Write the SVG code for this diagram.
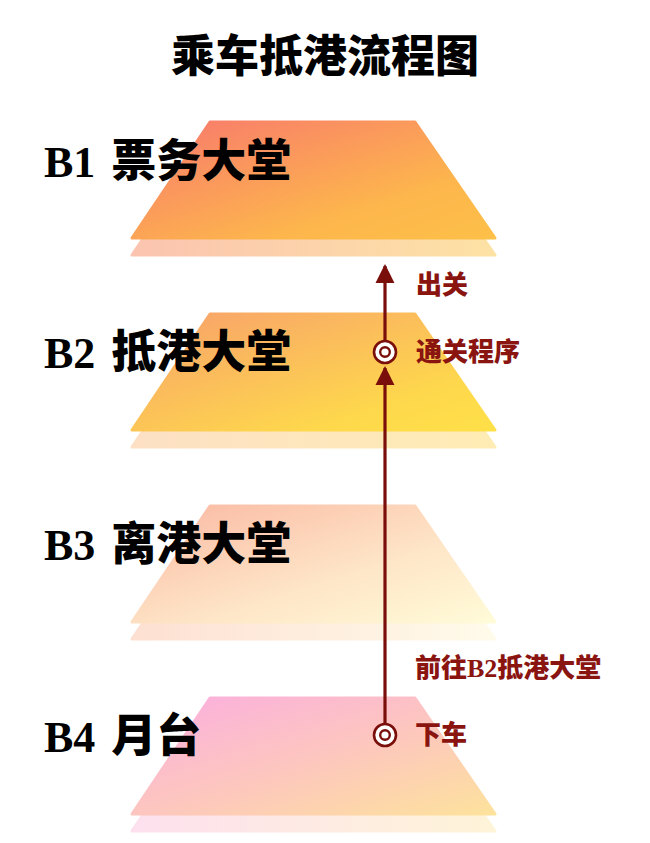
<svg xmlns="http://www.w3.org/2000/svg" width="650" height="843" viewBox="0 0 650 843">
<style>
.cn{font-family:"Noto Sans CJK SC","Noto Sans",sans-serif;font-weight:900;}
.lat{font-family:"Liberation Serif",serif;font-weight:bold;}
.floor{font-size:44px;fill:#000;}
.fcn{font-size:45px;}
.step{font-size:26px;fill:#8a1410;}
.conn{stroke:#7a0e0a;stroke-width:3.2;fill:none;}
.stop{fill:#fff;stroke:#7a0e0a;stroke-width:2.6;}
</style>
<defs>
<linearGradient id="g1" x1="0" y1="0" x2="1" y2="1"><stop offset="0" stop-color="#f8786e"/><stop offset="0.7" stop-color="#fdb64c"/><stop offset="1" stop-color="#fdc048"/></linearGradient>
<linearGradient id="s1" x1="0" y1="0" x2="1" y2="0"><stop offset="0" stop-color="#fbc4b0"/><stop offset="1" stop-color="#fde2a4"/></linearGradient>
<linearGradient id="g2" x1="0" y1="0" x2="1" y2="1"><stop offset="0" stop-color="#f8a06c"/><stop offset="0.75" stop-color="#fed84c"/><stop offset="1" stop-color="#fee048"/></linearGradient>
<linearGradient id="s2" x1="0" y1="0" x2="1" y2="0"><stop offset="0" stop-color="#fde0c4"/><stop offset="1" stop-color="#feecb4"/></linearGradient>
<linearGradient id="g3" x1="0" y1="0" x2="1" y2="1"><stop offset="0" stop-color="#fab8a2"/><stop offset="0.6" stop-color="#fee6c8"/><stop offset="1" stop-color="#fffbd8"/></linearGradient>
<linearGradient id="s3" x1="0" y1="0" x2="1" y2="0"><stop offset="0" stop-color="#fde0d2"/><stop offset="1" stop-color="#fffbea"/></linearGradient>
<linearGradient id="g4" x1="0" y1="0" x2="1" y2="1"><stop offset="0" stop-color="#fbaee0"/><stop offset="0.55" stop-color="#fdc8bc"/><stop offset="1" stop-color="#fde29c"/></linearGradient>
<linearGradient id="s4" x1="0" y1="0" x2="1" y2="0"><stop offset="0" stop-color="#fde0ee"/><stop offset="1" stop-color="#fef4d8"/></linearGradient>
<marker id="arr" viewBox="0 0 10 10" refX="9" refY="5" markerWidth="6" markerHeight="6" orient="auto" markerUnits="strokeWidth"><path d="M0,0 L10,5 L0,10 z" fill="#7a0e0a"/></marker>
</defs>

<text id="title" class="cn" x="325" y="72" font-size="44" text-anchor="middle" fill="#000">乘车抵港流程图</text>

<g id="floor-b1">
<polygon points="210,139 415,139 495,255 132,255" fill="url(#s1)" stroke="url(#s1)" stroke-width="3" stroke-linejoin="round"/>
<polygon points="210,122 415,122 495,238 132,238" fill="url(#g1)" stroke="url(#g1)" stroke-width="3" stroke-linejoin="round"/>
<text class="floor" x="44" y="177"><tspan class="lat">B1</tspan><tspan class="cn fcn" dx="16">票务大堂</tspan></text>
</g>

<g id="floor-b2">
<polygon points="210,331 415,331 495,447 132,447" fill="url(#s2)" stroke="url(#s2)" stroke-width="3" stroke-linejoin="round"/>
<polygon points="210,314 415,314 495,430 132,430" fill="url(#g2)" stroke="url(#g2)" stroke-width="3" stroke-linejoin="round"/>
<text class="floor" x="44" y="368"><tspan class="lat">B2</tspan><tspan class="cn fcn" dx="16">抵港大堂</tspan></text>
</g>

<g id="floor-b3">
<polygon points="210,523 415,523 495,639 132,639" fill="url(#s3)" stroke="url(#s3)" stroke-width="3" stroke-linejoin="round"/>
<polygon points="210,506 415,506 495,622 132,622" fill="url(#g3)" stroke="url(#g3)" stroke-width="3" stroke-linejoin="round"/>
<text class="floor" x="44" y="560"><tspan class="lat">B3</tspan><tspan class="cn fcn" dx="16">离港大堂</tspan></text>
</g>

<g id="floor-b4">
<polygon points="210,715 415,715 495,831 132,831" fill="url(#s4)" stroke="url(#s4)" stroke-width="3" stroke-linejoin="round"/>
<polygon points="210,698 415,698 495,814 132,814" fill="url(#g4)" stroke="url(#g4)" stroke-width="3" stroke-linejoin="round"/>
<text class="floor" x="44" y="752"><tspan class="lat">B4</tspan><tspan class="cn fcn" dx="16">月台</tspan></text>
</g>

<g id="connectors">
<line class="conn" x1="385" y1="723" x2="385" y2="368" marker-end="url(#arr)"/>
<line class="conn" x1="385" y1="340" x2="385" y2="266" marker-end="url(#arr)"/>
</g>

<g id="stop-b2">
<circle class="stop" cx="385" cy="352" r="11"/>
<circle cx="385" cy="352" r="4.8" fill="none" stroke="#7a0e0a" stroke-width="2.4"/>
</g>
<g id="stop-b4">
<circle class="stop" cx="385" cy="735" r="11"/>
<circle cx="385" cy="735" r="4.8" fill="none" stroke="#7a0e0a" stroke-width="2.4"/>
</g>

<g id="label-exit"><text class="cn step" x="416" y="294">出关</text></g>
<g id="label-customs"><text class="cn step" x="416" y="361">通关程序</text></g>
<g id="label-goto"><text class="step" x="415" y="677"><tspan class="cn">前往</tspan><tspan class="lat">B2</tspan><tspan class="cn">抵港大堂</tspan></text></g>
<g id="label-alight"><text class="cn step" x="415" y="744">下车</text></g>
</svg>
